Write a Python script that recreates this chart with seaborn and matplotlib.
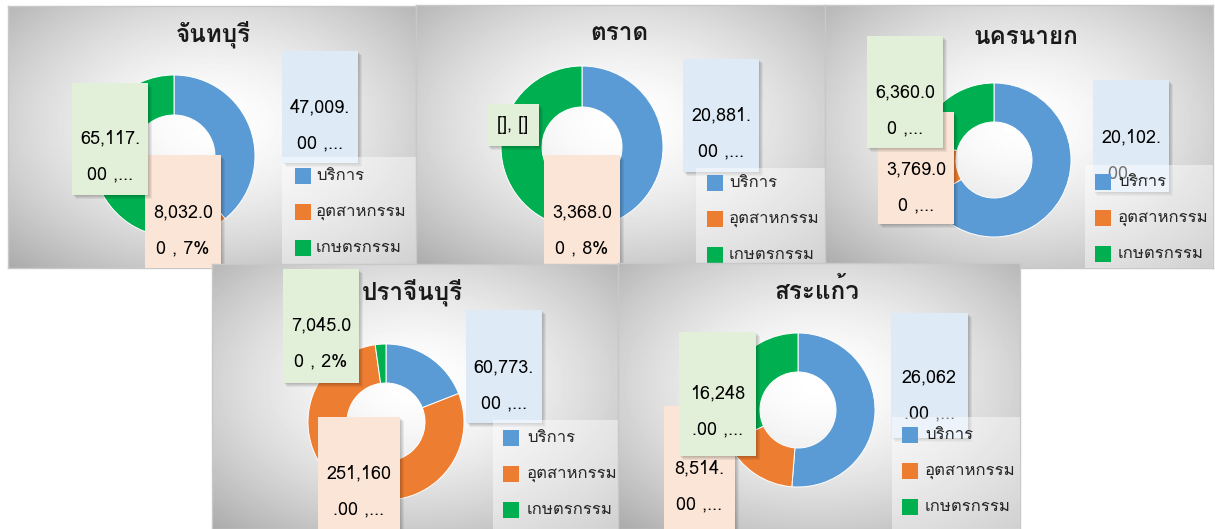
import numpy as np
import matplotlib
matplotlib.use('Agg')
import matplotlib.pyplot as plt
import seaborn as sns
from matplotlib import font_manager, ft2font
from matplotlib.patches import Rectangle

# data
provinces = ['จันทบุรี', 'ตราด', 'นครนายก', 'ปราจีนบุรี', 'สระแก้ว']
sectors = ['บริการ', 'อุตสาหกรรม', 'เกษตรกรรม']
service = [47009, 20881, 20102, 60773, 26062]
industry = [8032, 3368, 3769, 251160, 8514]
agriculture = [65117, 17850, 6360, 7045, 16248]

# data labels as they appear (cut off in the original chart)
service_labels = [['47,009.', '00 ,...'], ['20,881.', '00 ,...'], ['20,102.', '00 ,...'],
                  ['60,773.', '00 ,...'], ['26,062', '.00 ,...']]
industry_labels = [['8,032.0', '0 , 7%'], ['3,368.0', '0 , 8%'], ['3,769.0', '0 ,...'],
                   ['251,160', '.00 ,...'], ['8,514.', '00 ,...']]
agriculture_labels = [['65,117.', '00 ,...'], ['[], []'], ['6,360.0', '0 ,...'],
                      ['7,045.0', '0 , 2%'], ['16,248', '.00 ,...']]

colors = ['#5B9BD5', '#ED7D31', '#00B050']
box_colors = ['#DEEAF6', '#FBE5D6', '#E2F0D9']

# layout in pixels (x0, y0, x1, y1), y from top
W, H = 1215, 529
panels = [(8, 6, 416, 268), (416, 5, 825, 266), (825, 5, 1213, 268),
          (212, 264, 618, 529), (618, 263, 1020, 529)]
donuts = [(174, 156, 81, 41), (582, 147, 81, 40), (994, 160, 77, 38),
          (386, 422, 78, 39), (798, 410, 77, 38)]
titles = [(213, 34), (619, 34), (1026, 37), (412, 292), (817, 291)]
legend_pos = [(282, 157, 295, 316, 176), (696, 168, 707, 729, 183), (1085, 165, 1095, 1118, 182),
              (493, 420, 503, 527, 438), (892, 417, 902, 925, 435)]
label_boxes = [
    [(282, 51, 358, 163, 107), (145, 155, 221, 268, 212), (72, 83, 148, 195, 138)],
    [(683, 59, 759, 172, 115), (544, 155, 620, 267, 212), (487, 104, 539, 146, 125)],
    [(1093, 80, 1169, 192, 137), (878, 112, 954, 224, 169), (867, 36, 943, 148, 92)],
    [(466, 310, 542, 423, 367), (318, 417, 400, 530, 473), (283, 269, 359, 383, 325)],
    [(891, 313, 968, 438, 377), (664, 406, 735, 530, 468), (679, 332, 756, 456, 393)],
]

sns.set_theme(style='white')
thai = []
for f in font_manager.fontManager.ttflist:
    try:
        if 0x0E01 in ft2font.FT2Font(f.fname).get_charmap():
            thai.append(f.name)
    except Exception:
        pass
plt.rcParams['font.family'] = thai[:1] + ['DejaVu Sans']

fig = plt.figure(figsize=(W / 100, H / 100), dpi=100)


def add_ax(x0, y0, x1, y1):
    return fig.add_axes([x0 / W, 1 - y1 / H, (x1 - x0) / W, (y1 - y0) / H])


for i, name in enumerate(provinces):
    x0, y0, x1, y1 = panels[i]
    pw, ph = x1 - x0, y1 - y0

    # gradient background
    bg = add_ax(x0, y0, x1, y1)
    yy, xx = np.mgrid[0:ph, 0:pw]
    d = np.sqrt(((xx - pw * 0.5) / (pw * 0.62)) ** 2 + ((yy - ph * 0.45) / (ph * 0.62)) ** 2)
    v = 1 - 0.25 * np.clip(d, 0, 1.4) ** 1.6
    bg.imshow(v, cmap='gray', vmin=0, vmax=1, extent=(x0, x1, y1, y0), aspect='auto')
    bg.set_xticks([])
    bg.set_yticks([])
    for s in bg.spines.values():
        s.set_color('#C8C8C8')
        s.set_linewidth(1)

    # donut
    cx, cy, R, hole = donuts[i]
    pad = 1.04
    dax = add_ax(cx - R * pad, cy - R * pad, cx + R * pad, cy + R * pad)
    vals = [service[i], industry[i], agriculture[i]]
    dax.pie(vals, colors=colors, startangle=90, counterclock=False, radius=1,
            wedgeprops=dict(width=1 - hole / R, edgecolor='white', linewidth=0.7))
    dax.set_xlim(-pad, pad)
    dax.set_ylim(-pad, pad)
    dax.set_aspect('equal')
    dax.axis('off')

    # overlay: title, labels, legend
    ov = add_ax(x0, y0, x1, y1)
    ov.set_xlim(x0, x1)
    ov.set_ylim(y1, y0)
    ov.axis('off')
    ov.patch.set_alpha(0)

    tx, ty = titles[i]
    ov.text(tx, ty, name, ha='center', va='center', fontsize=17.5, fontweight='bold',
            color='#1a1a1a', zorder=2)

    lines = [service_labels[i], industry_labels[i], agriculture_labels[i]]
    for k in range(3):
        bx0, by0, bx1, by1, ly = label_boxes[i][k]
        for s in range(1, 5):
            ov.add_patch(Rectangle((bx0 + s, by0 + s), bx1 - bx0, by1 - by0,
                                   facecolor='black', alpha=0.06, lw=0, zorder=3))
        ov.add_patch(Rectangle((bx0, by0), bx1 - bx0, by1 - by0,
                               facecolor=box_colors[k], lw=0, zorder=3))
        bxc = (bx0 + bx1) / 2
        for j, t in enumerate(lines[k]):
            ov.text(bxc, ly + j * 36, t, ha='center', va='center', fontsize=13,
                    color='black', zorder=3, clip_on=True)

    lx0, ly0, sqx, txx, row0 = legend_pos[i]
    ov.add_patch(Rectangle((lx0, ly0), x1 - lx0, y1 - ly0, facecolor='white',
                           alpha=0.45, lw=0, zorder=4))
    for k, sec in enumerate(sectors):
        ry = row0 + k * 36
        ov.add_patch(Rectangle((sqx, ry - 8), 16, 16, facecolor=colors[k], lw=0, zorder=5))
        ov.text(txx, ry, sec, ha='left', va='center', fontsize=12, color='#262626',
                zorder=5, clip_on=True)

fig.savefig('out.png', dpi=100)
